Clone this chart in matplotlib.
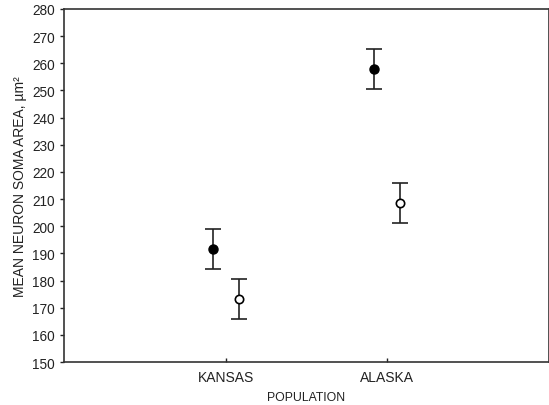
import matplotlib
matplotlib.use("Agg")
import matplotlib.pyplot as plt

plt.rcParams['font.family'] = ['Liberation Sans', 'DejaVu Sans']

categories = ["KANSAS", "ALASKA"]
filled_means = [191.5, 257.8]
filled_err = [7.3, 7.3]
open_means = [173.2, 208.5]
open_err = [7.3, 7.3]

yticks = list(range(150, 281, 10))

fig = plt.figure(figsize=(5.49, 4.06), dpi=100)
ax = fig.add_axes([0.1166, 0.1059, 0.8834, 0.8695])

xpos = [1, 2]
off = 0.08
c = '#222222'
ax.errorbar([x - off for x in xpos], filled_means, yerr=filled_err, fmt='o',
            color='black', ecolor=c, elinewidth=1.2, capsize=6, capthick=1.2,
            markersize=6.5, markerfacecolor='black', markeredgecolor='black')
ax.errorbar([x + off for x in xpos], open_means, yerr=open_err, fmt='o',
            color='black', ecolor=c, elinewidth=1.2, capsize=6, capthick=1.2,
            markersize=6, markerfacecolor='white', markeredgecolor='black', markeredgewidth=1.2)

ax.set_xlim(0, 3)
ax.set_ylim(150, 280)
ax.set_yticks(yticks)
ax.set_xticks(xpos)
ax.set_xticklabels(categories)
ax.tick_params(axis='y', direction='out', length=3, labelsize=9.8, colors=c, width=1)
ax.tick_params(axis='x', direction='in', length=3, labelsize=10, colors=c, width=1, pad=6)
for s in ax.spines.values():
    s.set_color('#333333')
    s.set_linewidth(1.2)
ax.set_ylabel("MEAN NEURON SOMA AREA, µm²", fontsize=10, color=c, labelpad=4)
ax.set_xlabel("POPULATION", fontsize=8.8, color=c, labelpad=5)

fig.savefig("out.png", dpi=100)
